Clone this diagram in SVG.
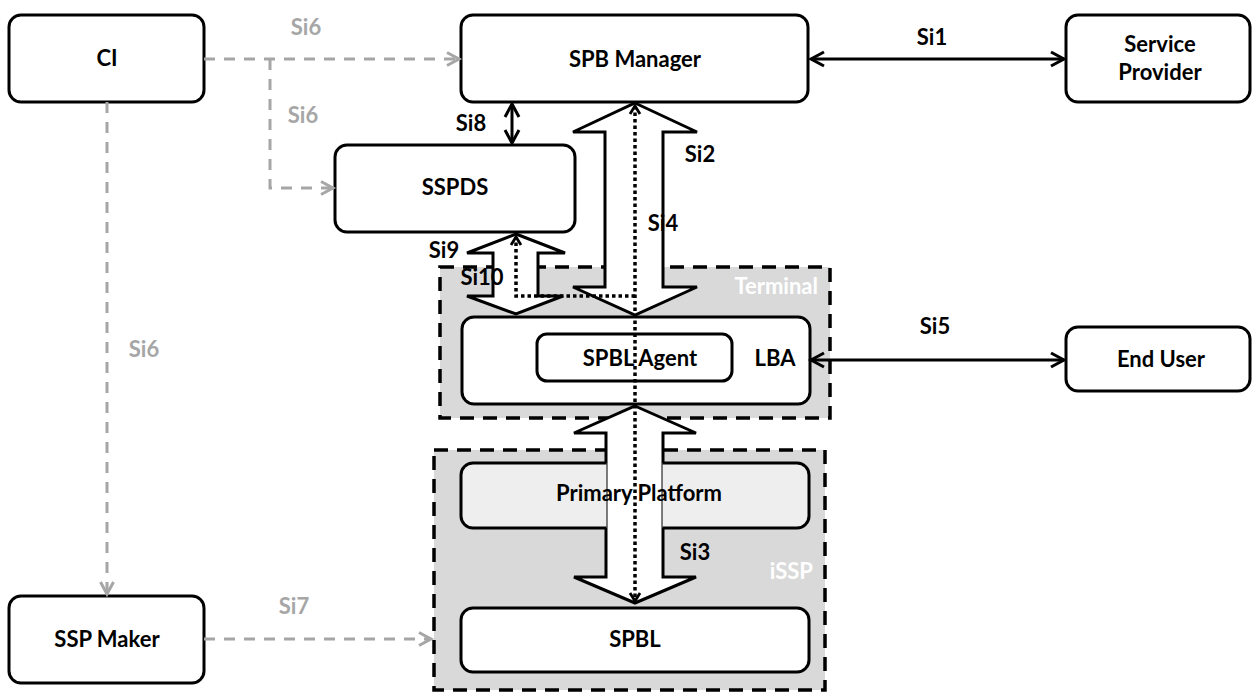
<svg xmlns="http://www.w3.org/2000/svg" width="1252" height="693" viewBox="0 0 1252 693">
<style>
text{font-family:Lato,"Liberation Sans",sans-serif;font-weight:bold;font-size:22px;fill:#000;text-anchor:middle}
.node{fill:#fff;stroke:#000;stroke-width:3}
.cont{fill:#d9d9d9;stroke:#000;stroke-width:3.5;stroke-dasharray:14 9}
.g{fill:none;stroke:#a6a6a6;stroke-width:3;stroke-dasharray:11 9}
.gl{fill:#a6a6a6}
.b{fill:none;stroke:#000;stroke-width:3}
.big{fill:#fff;stroke:#000;stroke-width:3;stroke-linejoin:miter}
.dot{fill:none;stroke:#000;stroke-width:3.5;stroke-dasharray:3.5 3}
.wl{fill:#fff;text-anchor:end}
</style>
<defs>
<marker id="ga" markerUnits="userSpaceOnUse" markerWidth="20" markerHeight="20" viewBox="-16 -10 20 20" refX="0" refY="0" orient="auto">
<path d="M-12,-6.5 L0,0 L-12,6.5" fill="none" stroke="#a6a6a6" stroke-width="3"/>
</marker>
<marker id="ba" markerUnits="userSpaceOnUse" markerWidth="20" markerHeight="20" viewBox="-16 -10 20 20" refX="0" refY="0" orient="auto-start-reverse">
<path d="M-13,-7 L0,0 L-13,7" fill="none" stroke="#000" stroke-width="3"/>
</marker>
<marker id="da" markerUnits="userSpaceOnUse" markerWidth="16" markerHeight="16" viewBox="-12 -8 16 16" refX="0" refY="0" orient="auto-start-reverse">
<path d="M-8,-5 L0,0 L-8,5" fill="none" stroke="#000" stroke-width="2.8"/>
</marker>
<clipPath id="shaftcut">
<rect x="0" y="0" width="606.5" height="693"/>
<rect x="662.5" y="0" width="600" height="693"/>
</clipPath>
</defs>

<g id="terminal">
<rect class="cont" x="440" y="267" width="390" height="151"/>
<text class="wl" x="818" y="294">Terminal</text>
</g>
<g id="issp">
<rect class="cont" x="434" y="450" width="391" height="240"/>
<text class="wl" x="813" y="579">iSSP</text>
</g>

<g id="ci"><rect class="node" x="9" y="15" width="195" height="87" rx="12"/><text x="107" y="66">CI</text></g>
<g id="spb-manager"><rect class="node" x="461" y="15" width="347" height="87" rx="12"/><text x="635" y="67">SPB Manager</text></g>
<g id="service-provider"><rect class="node" x="1066" y="15" width="184" height="87" rx="12"/><text x="1160" y="52">Service</text><text x="1160" y="80">Provider</text></g>
<g id="sspds"><rect class="node" x="335" y="145" width="240" height="87" rx="12"/><text x="455" y="195">SSPDS</text></g>
<g id="lba"><rect class="node" x="462" y="317" width="348" height="87" rx="12"/><text x="775" y="366">LBA</text></g>
<g id="spbl-agent"><rect class="node" x="537" y="334" width="195" height="47" rx="10"/><text x="640" y="366">SPBL Agent</text></g>
<g id="end-user"><rect class="node" x="1066" y="327" width="184" height="64" rx="12"/><text x="1161" y="367">End User</text></g>
<g id="spbl"><rect class="node" x="461" y="608" width="348" height="64" rx="12"/><text x="635" y="647">SPBL</text></g>
<g id="ssp-maker"><rect class="node" x="9" y="596" width="195" height="87" rx="12"/><text x="107" y="647">SSP Maker</text></g>

<g id="connectors">
<path class="g" d="M204,59 L459,59" marker-end="url(#ga)"/>
<path class="g" d="M270,59 L270,188 L333,188" marker-end="url(#ga)"/>
<path class="g" d="M107,102 L107,594" marker-end="url(#ga)"/>
<path class="g" d="M204,639 L431,639" marker-end="url(#ga)"/>
<text class="gl" x="306" y="35">Si6</text>
<text class="gl" x="303" y="123">Si6</text>
<text class="gl" x="144" y="357">Si6</text>
<text class="gl" x="294" y="614">Si7</text>

<path class="b" d="M811,59 L1064,59" marker-start="url(#ba)" marker-end="url(#ba)"/>
<path class="b" d="M811,360 L1064,360" marker-start="url(#ba)" marker-end="url(#ba)"/>
<path class="b" d="M512,104 L512,143" marker-start="url(#ba)" marker-end="url(#ba)"/>
<text x="932" y="45">Si1</text>
<text x="935" y="334">Si5</text>
<text x="471" y="131">Si8</text>

<path class="big" d="M635,103 L697,132 L663,132 L663,287 L697,287 L635,315 L573,287 L605,287 L605,132 L573,132 Z"/>
<path class="big" d="M516,234 L565,253 L538,253 L538,296 L563,296 L516,314 L467,296 L493,296 L493,253 L467,253 Z"/>
<path class="big" d="M635,406 L696,433 L663,433 L663,577 L696,577 L635,603 L574,577 L606,577 L606,433 L574,433 Z"/>

<path class="dot" d="M635,106 L635,601" marker-start="url(#da)" marker-end="url(#da)"/>
<path class="dot" d="M635,296 L516,296 L516,237" marker-end="url(#da)"/>

<text x="700" y="162">Si2</text>
<text x="663" y="231">Si4</text>
<text x="444" y="258">Si9</text>
<text x="482" y="285">Si10</text>
<text x="695" y="560">Si3</text>
</g>

<g id="primary-platform">
<rect x="461" y="463" width="348" height="65" rx="12" fill="#eeeeee" stroke="#000" stroke-width="3" clip-path="url(#shaftcut)"/>
<text x="639" y="501">Primary Platform</text>
</g>
</svg>
